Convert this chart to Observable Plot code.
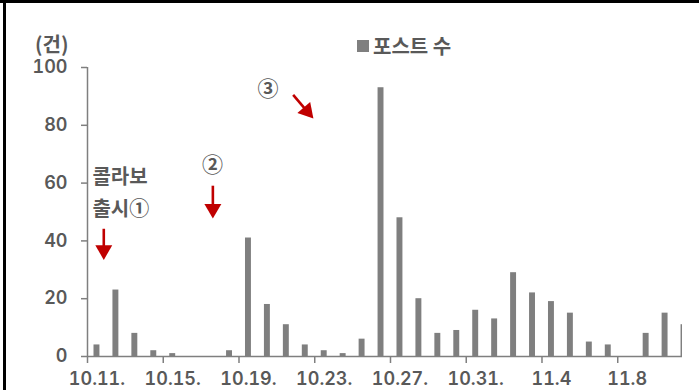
<!DOCTYPE html>
<html>
<head>
<meta charset="utf-8">
<script src="https://cdn.jsdelivr.net/npm/d3@7"></script>
<script src="https://cdn.jsdelivr.net/npm/@observablehq/plot@0.6"></script>
<style>
  html, body { margin: 0; padding: 0; background: #fff; overflow: hidden; }
  body { width: 699px; height: 390px; position: relative; }
  .rule-top { position: absolute; left: 0; top: 0; width: 699px; height: 3px; background: #000; }
  .rule-left { position: absolute; left: 3px; top: 0; width: 3px; height: 390px; background: #000; }
  #chart { position: absolute; left: 0; top: 0; }
  #chart figure { margin: 0; position: relative; }
  #chart figure > div {
    position: absolute; left: 357px; top: 35px; margin: 0; min-height: 0;
    font-family: 'Noto Sans CJK KR', sans-serif; font-size: 20px; font-weight: bold;
    color: #595959; line-height: 22px;
  }
  #chart figure > div span { margin-right: 0; }
  #chart figure > div span > svg { margin-right: 4px; }
</style>
</head>
<body>
<div class="rule-top"></div>
<div class="rule-left"></div>
<div id="chart"></div>
<script>
// Daily post counts, 10.11 – 11.11
const days = [
  "10.11", "10.12", "10.13", "10.14", "10.15", "10.16", "10.17", "10.18",
  "10.19", "10.20", "10.21", "10.22", "10.23", "10.24", "10.25", "10.26",
  "10.27", "10.28", "10.29", "10.30", "10.31", "11.1", "11.2", "11.3",
  "11.4", "11.5", "11.6", "11.7", "11.8", "11.9", "11.10", "11.11"
];
const posts = [
  4, 23, 8, 2, 1, 0, 0, 2,
  41, 18, 11, 4, 2, 1, 6, 93,
  48, 20, 8, 9, 16, 13, 29, 22,
  19, 15, 5, 4, 0, 8, 15, 11
];
const seriesName = "포스트 수";
const unitLabel = "(건)";
const tickLabels = ["10.11.", "10.15.", "10.19.", "10.23.", "10.27.", "10.31.", "11.4", "11.8"];
const yTicks = [0, 20, 40, 60, 80, 100];

// Callouts: event labels and the red arrows that point at the spikes
const noteLines = ["콜라보", "출시①"];
const noteMarks = ["②", "③"];

const table = days.map((day, i) => ({day, i, posts: posts[i], series: seriesName}));
const tickIndex = tickLabels.map(l => days.indexOf(l.replace(/\.$/, "")));
const labelOf = new Map(tickIndex.map((k, j) => [k + 0.5, tickLabels[j]]));

const lines = [
  {text: noteLines[0], x: 0.26, y: 62.0},
  {text: noteLines[1], x: 0.26, y: 50.8}
];
const marks = [
  {text: noteMarks[0], x: 6.6, y: 66},
  {text: noteMarks[1], x: 9.53, y: 92.6}
];
const shafts = [
  {x1: 0.86, y1: 44.2, x2: 0.86, y2: 37.5},
  {x1: 6.62, y1: 59.1, x2: 6.62, y2: 51.8},
  {x1: 10.86, y1: 90.55, x2: 11.5, y2: 85.6}
];
const heads = [
  {x: 0.86, y: 36.8, rotate: 180},
  {x: 6.62, y: 51.1, rotate: 180},
  {x: 11.59, y: 84.9, rotate: 139}
];

const red = "#c00000";
const barGray = "#7f7f7f";
const axisGray = "#7f7f7f";
const textGray = "#595959";
const hangul = "'Noto Sans CJK KR', sans-serif";
const digits = "Inter, 'Noto Sans CJK KR', sans-serif";

const chart = Plot.plot({
  width: 699,
  height: 390,
  marginLeft: 87,
  marginRight: 17,
  marginTop: 67,
  marginBottom: 34,
  style: {fontFamily: digits, fontSize: "18px", fontWeight: 600, color: textGray, background: "transparent", overflow: "visible"},
  x: {type: "linear", domain: [0, 31.42], axis: null},
  y: {domain: [0, 100], axis: null},
  color: {legend: true, domain: [seriesName], range: [barGray], swatchSize: 12},
  marks: [
    Plot.rect(table, {
      x1: "i", x2: d => d.i + 1, y1: 0, y2: "posts",
      fill: "series", insetLeft: 6.5, insetRight: 6.5, clip: true
    }),
    Plot.ruleX([0], {stroke: axisGray, strokeWidth: 1.5}),
    Plot.ruleY([0], {stroke: axisGray, strokeWidth: 1.5}),
    Plot.axisY(yTicks, {
      anchor: "left", tickSize: 6, tickPadding: 14, stroke: axisGray, strokeWidth: 1.5,
      fill: textGray, fontFamily: digits, fontSize: 18, fontWeight: 600
    }),
    Plot.axisX(tickIndex, {
      anchor: "bottom", tickSize: 7, stroke: axisGray, strokeWidth: 1.5, tickFormat: () => ""
    }),
    Plot.axisX([...labelOf.keys()], {
      anchor: "bottom", tickSize: 0, tickPadding: 16, tickFormat: d => labelOf.get(d),
      fill: textGray, fontFamily: digits, fontSize: 18, fontWeight: 600
    }),
    Plot.text([unitLabel], {
      text: d => d, frameAnchor: "top-left", dx: -19, dy: -30, textAnchor: "end",
      fill: textGray, fontFamily: hangul, fontSize: 20, fontWeight: "bold"
    }),
    Plot.text(lines, {
      x: "x", y: "y", text: "text", textAnchor: "start",
      fill: textGray, fontFamily: hangul, fontSize: 20, fontWeight: "bold"
    }),
    Plot.text(marks, {
      x: "x", y: "y", text: "text",
      fill: textGray, fontFamily: hangul, fontSize: 21, fontWeight: "bold"
    }),
    Plot.link(shafts, {x1: "x1", y1: "y1", x2: "x2", y2: "y2", stroke: red, strokeWidth: 2.6}),
    Plot.dot(heads, {x: "x", y: "y", rotate: "rotate", symbol: "triangle", r: 6.3, fill: red, stroke: "none"})
  ]
});

document.getElementById("chart").appendChild(chart);
</script>
</body>
</html>
